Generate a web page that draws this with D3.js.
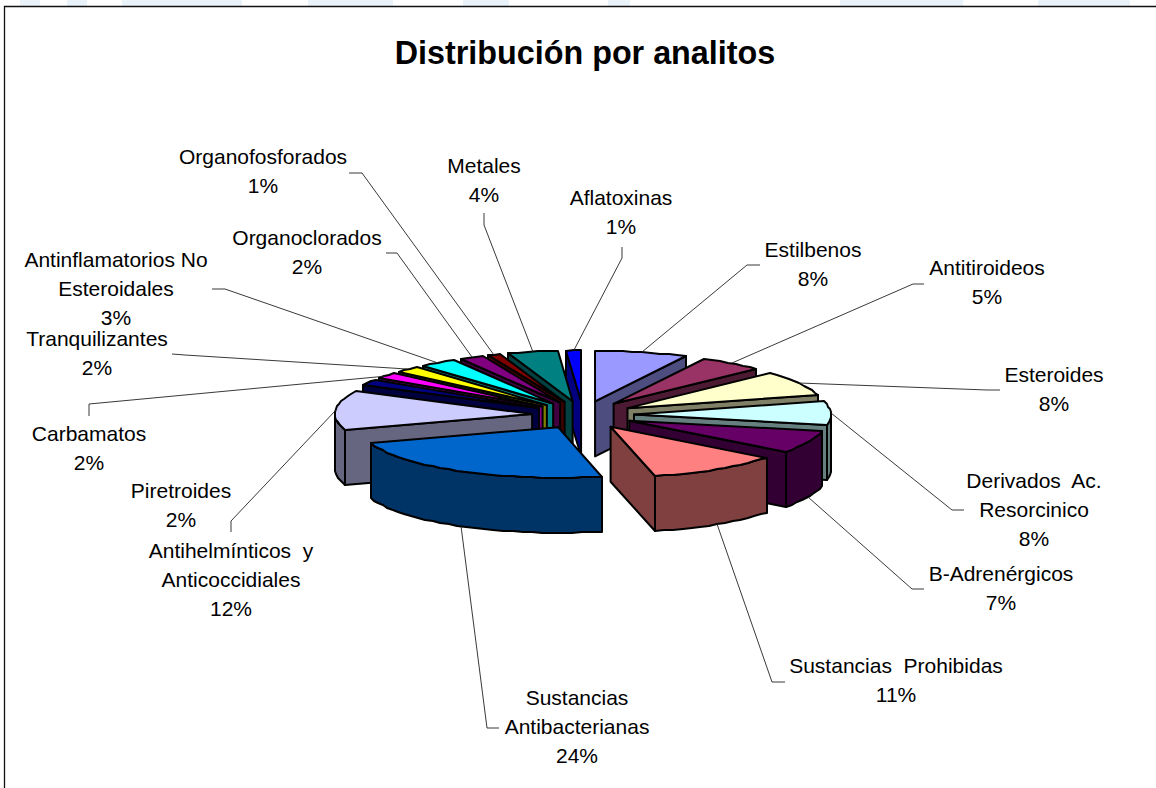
<!DOCTYPE html>
<html>
<head>
<meta charset="utf-8">
<script src="https://cdnjs.cloudflare.com/ajax/libs/d3/7.8.5/d3.min.js"></script>
<style>
  html, body { margin: 0; padding: 0; background: #fff; }
  svg { display: block; }
  text { font-family: "Liberation Sans", Arial, sans-serif; fill: #000; white-space: pre; }
</style>
</head>
<body>
<div id="chart"></div>
<script>
// slices, clockwise from 12 o'clock
const categories = [
    "Estilbenos", "Antitiroideos", "Esteroides", "Derivados  Ac.\nResorcinico", "B-Adrenérgicos",
    "Sustancias  Prohibidas", "Sustancias\nAntibacterianas", "Antihelmínticos  y\nAnticoccidiales",
    "Piretroides", "Carbamatos", "Tranquilizantes", "Antinflamatorios No\nEsteroidales",
    "Organoclorados", "Organofosforados", "Metales", "Aflatoxinas"
];
// percentages, estimated from the slice edges (labels show them rounded)
const shares = [7.6, 5.3, 7.9, 7.5, 7.1, 11.0, 23.5, 12.45, 2.1, 2.0, 2.05, 3.1, 2.0, 1.1, 4.1, 1.2];
const colors = [
    "#9999ff", "#993366", "#ffffcc", "#ccffff", "#660066", "#ff8080", "#0066cc", "#ccccff",
    "#000080", "#ff00ff", "#ffff00", "#00ffff", "#800080", "#800000", "#008080", "#0000ff"
];

// label anchor: centre x, first baseline
const labelPos = [
    [813, 257], [987, 275], [1054, 382], [1034, 488], [1001, 581], [896, 673], [577, 705], [231, 558],
    [181, 498], [89, 441], [97, 346], [116, 267], [307, 245], [263, 164], [484, 173], [621, 205]
];
// leader start and elbow, the tip comes from the slice itself
const leaderPts = [
    [[760, 265], [747, 265]], [[924, 284], [913, 284]], [[1000, 390], [987, 390]], [[964, 510], [952, 510]],
    [[924, 589], [912, 589]], [[785, 682], [772, 682]], [[499, 728], [487, 728]], [[231, 532], [231, 521]],
    [], [[89, 416], [89, 404]], [[172, 354], [185, 355]], [[212, 289], [225, 289]],
    [[386, 253], [397, 253]], [[349, 173], [362, 173]], [[484, 213], [484, 225]], [[622, 247], [622, 258]]
];

const width = 1156,
      height = 788,
      cx = 583,
      cy = 415,
      radius = 197,
      tilt = 0.257,
      explode = 51,
      explodeY = 14,
      depth = 55,
      lineHeight = 29;

const scaleX = d3.scaleLinear([-1, 1], [-radius, radius]),
      scaleY = d3.scaleLinear([-1, 1], [-radius * tilt, radius * tilt]);

const svg = d3.select("#chart").append("svg")
        .attr("width", width)
        .attr("height", height);

// faint remains of the page behind the chart
const stripes = [[20, 40], [67, 87], [122, 242], [308, 393], [463, 509], [608, 630], [840, 963], [1038, 1130]];
svg.append("g")
    .selectAll("rect")
    .data(stripes)
    .join("rect")
    .attr("x", function(d) { return d[0]; })
    .attr("y", 0)
    .attr("width", function(d) { return d[1] - d[0]; })
    .attr("height", 6)
    .attr("fill", "#eaf2fa");

svg.append("path")
    .attr("d", `M4.5,${height}V6.5H${width}`)
    .attr("fill", "none")
    .attr("stroke", "#111")
    .attr("stroke-width", 1.3);

svg.append("text")
    .attr("x", 585)
    .attr("y", 64)
    .attr("text-anchor", "middle")
    .attr("font-size", 32.3)
    .attr("font-weight", "bold")
    .text("Distribución por analitos");

const pie = d3.pie().sort(null).startAngle(0).endAngle(2 * Math.PI);

function halfTone(c) {
    const rgb = d3.rgb(c);
    return d3.rgb(rgb.r / 2, rgb.g / 2, rgb.b / 2).formatHex();
}

const arcs = pie(shares).map(function(d) {
    const mid = (d.startAngle + d.endAngle) / 2;
    return {
        index: d.index,
        a0: d.startAngle,
        a1: d.endAngle,
        mid: mid,
        ox: cx + explode * Math.sin(mid),
        oy: cy - explodeY * Math.cos(mid),
        color: colors[d.index],
        side: halfTone(colors[d.index])
    };
});

function rim(d, angle, drop) {
    return [
        Math.round(d.ox + scaleX(Math.sin(angle))),
        Math.round(d.oy - scaleY(Math.cos(angle)) + (drop || 0))
    ];
}

function rimPoints(d, a0, a1, drop) {
    const n = Math.max(1, Math.ceil((a1 - a0) / (3 * Math.PI / 180))),
          pts = [];
    for (let i = 0; i <= n; i++) {
        pts.push(rim(d, a0 + (a1 - a0) * i / n, drop));
    }
    return pts;
}

const line_generator = d3.line().curve(d3.curveLinear);

function topFace(d) {
    return line_generator([[d.ox, d.oy]].concat(rimPoints(d, d.a0, d.a1, 0))) + "Z";
}

function radialWall(d, angle) {
    const p = rim(d, angle, 0);
    return line_generator([[d.ox, d.oy], p, [p[0], p[1] + depth], [d.ox, d.oy + depth]]) + "Z";
}

function outerWall(d) {
    const a0 = Math.max(d.a0, Math.PI / 2),
          a1 = Math.min(d.a1, 3 * Math.PI / 2);
    if (a1 <= a0) return null;
    return line_generator(rimPoints(d, a0, a1, 0).concat(rimPoints(d, a0, a1, depth).reverse())) + "Z";
}

function walls(d) {
    const out = [];
    if (Math.sin(d.a0) < -1e-6) out.push(radialWall(d, d.a0));
    if (Math.sin(d.a1) > 1e-6) out.push(radialWall(d, d.a1));
    const o = outerWall(d);
    if (o) out.push(o);
    return out;
}

// back slices first so the front ones cover them
const slices = svg.append("g")
    .attr("stroke", "#000")
    .attr("stroke-width", 2)
    .attr("stroke-linejoin", "round")
    .selectAll("g")
    .data(arcs.slice().sort(function(a, b) { return d3.descending(Math.cos(a.mid), Math.cos(b.mid)); }))
    .join("g");

slices.selectAll("path.wall")
    .data(function(d) { return walls(d).map(function(w) { return { path: w, fill: d.side }; }); })
    .join("path")
    .attr("class", "wall")
    .attr("d", function(d) { return d.path; })
    .attr("fill", function(d) { return d.fill; });

slices.append("path")
    .attr("d", topFace)
    .attr("fill", function(d) { return d.color; });

// leaders
svg.append("g")
    .attr("fill", "none")
    .attr("stroke", "#222")
    .attr("stroke-width", 0.9)
    .selectAll("path")
    .data(arcs.filter(function(d) { return leaderPts[d.index].length; }))
    .join("path")
    .attr("d", function(d) {
        const front = Math.cos(d.mid) < -0.05;
        return line_generator(leaderPts[d.index].concat([rim(d, d.mid, front ? depth : 0)]));
    });

// labels
const labels = svg.append("g")
    .attr("font-size", 21)
    .attr("text-anchor", "middle")
    .selectAll("text")
    .data(arcs)
    .join("text")
    .attr("transform", function(d) { return `translate(${labelPos[d.index][0]},${labelPos[d.index][1]})`; });

labels.selectAll("tspan")
    .data(function(d) {
        return categories[d.index].split("\n").concat([Math.round(shares[d.index]) + "%"]);
    })
    .join("tspan")
    .attr("x", 0)
    .attr("y", function(d, i) { return i * lineHeight; })
    .text(function(d) { return d; });
</script>
</body>
</html>
